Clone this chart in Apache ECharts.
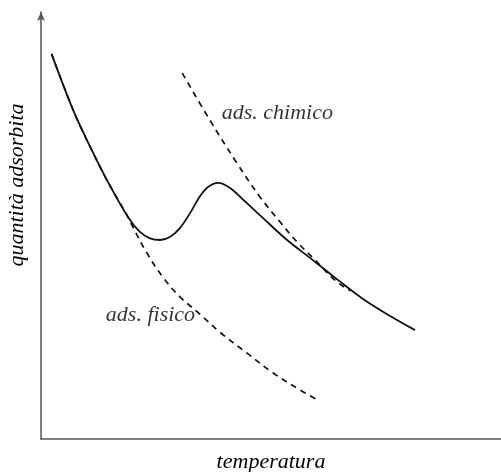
<!DOCTYPE html>
<html>
<head>
<meta charset="utf-8">
<script src="https://cdn.jsdelivr.net/npm/echarts@6/dist/echarts.min.js"></script>
<style>
  html, body { margin: 0; padding: 0; background: #fff; }
  #chart { width: 501px; height: 472px; }
</style>
</head>
<body>
<div id="chart"></div>
<script>
// curve, arbitrary units 0..100 on both axes
var totaleX = [2.3, 7.0, 10.7, 14.3, 18.9, 21.5, 23.7, 25.9, 28.0, 30.2, 32.4, 34.6, 36.3, 38.5, 41.1, 44.3, 48.7, 53.5, 59.1, 64.6, 70.0, 75.9, 81.3];
var totaleY = [90.2, 77.0, 68.4, 60.7, 52.0, 48.5, 47.0, 46.6, 47.3, 49.4, 52.9, 56.9, 59.0, 60.0, 58.8, 55.7, 51.3, 46.6, 41.9, 37.2, 32.8, 28.8, 25.5];

var chimicoX = [30.7, 36.7, 42.6, 47.6, 52.0, 55.7, 59.6, 63.9, 67.2];
var chimicoY = [85.7, 74.7, 64.6, 56.7, 50.8, 46.1, 41.9, 37.2, 34.7];

var fisicoX = [2.3, 7.0, 10.7, 14.3, 18.9, 20.0, 23.0, 26.5, 30.2, 34.6, 38.9, 44.8, 50.4, 56.3, 60.2];
var fisicoY = [90.2, 77.0, 68.4, 60.7, 52.0, 49.6, 43.6, 37.9, 33.3, 29.2, 25.0, 20.1, 15.5, 11.5, 9.1];

var etichette = ['ads. chimico', 'ads. fisico'];
var etichetteX = [39.3, 14.1];
var etichetteY = [76.3, 29.0];

function zip(xs, ys) {
  return xs.map(function (x, i) { return [x, ys[i]]; });
}

var fontItalic = {
  fontFamily: 'Liberation Serif',
  fontStyle: 'italic',
  fontSize: 22,
  color: '#000'
};

var chartDom = document.getElementById('chart');
var chart = echarts.init(chartDom);

var option = {
  animation: false,
  grid: { left: 41, right: 0, top: 12, bottom: 33, containLabel: false, outerBoundsMode: 'none' },
  xAxis: {
    type: 'value',
    min: 0,
    max: 100,
    name: 'temperatura',
    nameLocation: 'middle',
    nameGap: 12,
    nameTextStyle: fontItalic,
    axisLine: { lineStyle: { color: '#555', width: 1.5 } },
    axisTick: { show: false },
    axisLabel: { show: false },
    splitLine: { show: false }
  },
  yAxis: {
    type: 'value',
    min: 0,
    max: 100,
    axisLine: {
      show: true,
      symbol: ['none', 'arrow'],
      symbolSize: [6, 9],
      lineStyle: { color: '#555', width: 1.5 }
    },
    axisTick: { show: false },
    axisLabel: { show: false },
    splitLine: { show: false }
  },
  graphic: [{
    type: 'text',
    x: 17,
    y: 185,
    rotation: Math.PI / 2,
    style: {
      text: 'quantità adsorbita',
      align: 'center',
      verticalAlign: 'middle',
      fill: '#000',
      font: 'italic 22px "Liberation Serif"'
    }
  }],
  series: [
    {
      type: 'line',
      data: zip(fisicoX, fisicoY),
      smooth: 0.4,
      showSymbol: false,
      lineStyle: { color: '#111', width: 1.7, type: [6, 5] }
    },
    {
      type: 'line',
      data: zip(chimicoX, chimicoY),
      smooth: 0.4,
      showSymbol: false,
      lineStyle: { color: '#111', width: 1.7, type: [6, 5] }
    },
    {
      type: 'line',
      data: zip(totaleX, totaleY),
      smooth: 0.35,
      showSymbol: false,
      lineStyle: { color: '#111', width: 1.8 }
    },
    {
      type: 'scatter',
      symbolSize: 0,
      data: etichette.map(function (t, i) {
        return { value: [etichetteX[i], etichetteY[i]], name: t };
      }),
      label: {
        show: true,
        position: 'right',
        distance: 0,
        formatter: '{b}',
        fontFamily: 'Liberation Serif',
        fontStyle: 'italic',
        fontSize: 22,
        color: '#000'
      },
      silent: true
    }
  ]
};

chart.setOption(option);
</script>
</body>
</html>
